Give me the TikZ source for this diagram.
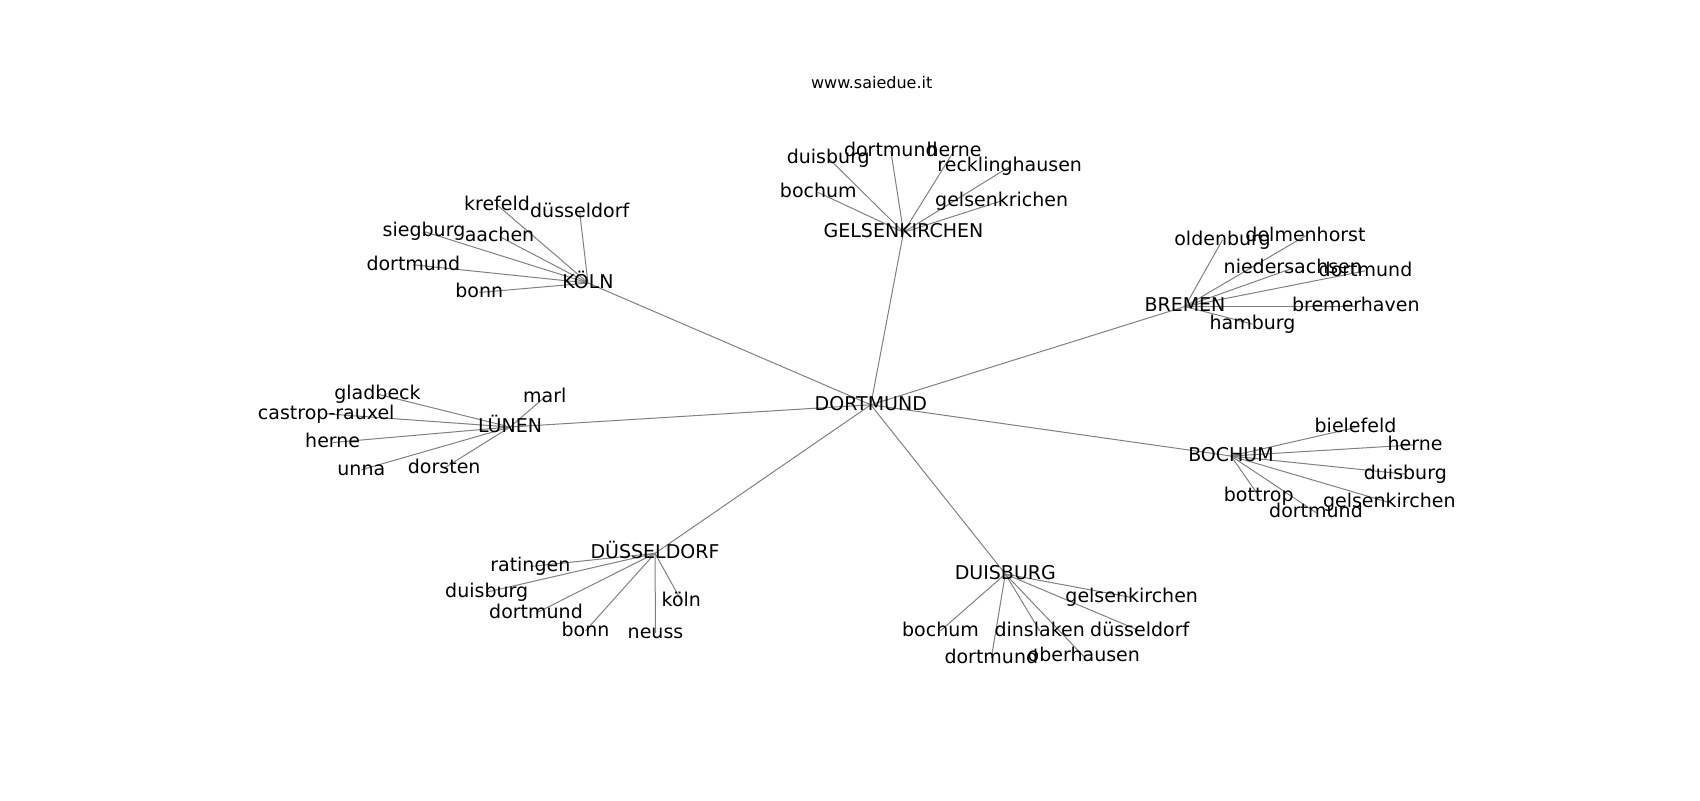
\documentclass[tikz,border=0pt]{standalone}
\usepackage{fontspec}
\setmainfont{DejaVu Sans}
\usetikzlibrary{backgrounds}
\tikzset{
  lbl/.style={font=\fontsize{9.5}{11}\selectfont, inner sep=0pt, text height=7.22pt, text depth=1.98pt, anchor=center},
  ttl/.style={font=\fontsize{8}{10}\selectfont, inner sep=0pt, anchor=base},
  edge/.style={draw=gray, line width=0.5pt}
}
\begin{document}
\begin{tikzpicture}[x=0.5pt,y=-0.5pt]
\useasboundingbox (0,0) rectangle (1700,800);
\node[ttl] (title) at (871.7,88.3) {www.saiedue.it};
% hubs
\node[lbl] (DO) at (870.8,404.8) {DORTMUND};
\node[lbl] (KO) at (588,283) {KÖLN};
\node[lbl] (GE) at (903.5,232.3) {GELSENKIRCHEN};
\node[lbl] (BR) at (1185,306.5) {BREMEN};
\node[lbl] (LU) at (510,427) {LÜNEN};
\node[lbl] (BO) at (1231,456) {BOCHUM};
\node[lbl] (DU) at (655,553.3) {DÜSSELDORF};
\node[lbl] (DB) at (1005.3,574) {DUISBURG};
% Köln
\node[lbl] (k1) at (497,204.8) {krefeld};
\node[lbl] (k2) at (579.7,212.5) {düsseldorf};
\node[lbl] (k3) at (424,231.5) {siegburg};
\node[lbl] (k4) at (499.5,236.5) {aachen};
\node[lbl] (k5) at (413.3,264.8) {dortmund};
\node[lbl] (k6) at (479.3,292.5) {bonn};
% Gelsenkirchen
\node[lbl] (g1) at (828.3,158.1) {duisburg};
\node[lbl] (g2) at (890.8,150.8) {dortmund};
\node[lbl] (g3) at (954,150.8) {herne};
\node[lbl] (g4) at (1009.7,166.5) {recklinghausen};
\node[lbl] (g5) at (818.3,192.5) {bochum};
\node[lbl] (g6) at (1001.7,200.8) {gelsenkrichen};
% Bremen
\node[lbl] (b1) at (1222.5,239.8) {oldenburg};
\node[lbl] (b2) at (1305.5,235.8) {delmenhorst};
\node[lbl] (b3) at (1292.8,268.1) {niedersachsen};
\node[lbl] (b4) at (1365.5,270.8) {dortmund};
\node[lbl] (b5) at (1355.8,306.5) {bremerhaven};
\node[lbl] (b6) at (1252.5,324.1) {hamburg};
% Lünen
\node[lbl] (l1) at (377.5,394.1) {gladbeck};
\node[lbl] (l2) at (326.2,413.8) {castrop-rauxel};
\node[lbl] (l3) at (332.7,442.5) {herne};
\node[lbl] (l4) at (361.3,469.8) {unna};
\node[lbl] (l5) at (444.2,468.1) {dorsten};
\node[lbl] (l6) at (544.8,397.1) {marl};
% Bochum
\node[lbl] (o1) at (1355.5,427.5) {bielefeld};
\node[lbl] (o2) at (1415,444.8) {herne};
\node[lbl] (o3) at (1405.3,474.1) {duisburg};
\node[lbl] (o4) at (1258.7,495.8) {bottrop};
\node[lbl] (o5) at (1389.3,502.5) {gelsenkirchen};
\node[lbl] (o6) at (1316,512.5) {dortmund};
% Düsseldorf
\node[lbl] (d1) at (530.3,566.5) {ratingen};
\node[lbl] (d2) at (486.7,592.1) {duisburg};
\node[lbl] (d3) at (536,613.1) {dortmund};
\node[lbl] (d4) at (585.5,630.8) {bonn};
\node[lbl] (d5) at (655.5,633.1) {neuss};
\node[lbl] (d6) at (681.3,600.8) {köln};
% Duisburg
\node[lbl] (u1) at (1131.7,597.5) {gelsenkirchen};
\node[lbl] (u2) at (940.5,630.8) {bochum};
\node[lbl] (u3) at (1039.7,630.8) {dinslaken};
\node[lbl] (u4) at (1139.7,630.8) {düsseldorf};
\node[lbl] (u5) at (991.3,658.1) {dortmund};
\node[lbl] (u6) at (1083.8,656.5) {oberhausen};
\begin{scope}[on background layer]
\foreach \h in {KO,GE,BR,LU,BO,DU,DB}
  \draw[edge] (DO.center) -- (\h.center);
\foreach \l in {k1,k2,k3,k4,k5,k6}
  \draw[edge] (KO.center) -- (\l.center);
\foreach \l in {g1,g2,g3,g4,g5,g6}
  \draw[edge] (GE.center) -- (\l.center);
\foreach \l in {b1,b2,b3,b4,b5,b6}
  \draw[edge] (BR.center) -- (\l.center);
\foreach \l in {l1,l2,l3,l4,l5,l6}
  \draw[edge] (LU.center) -- (\l.center);
\foreach \l in {o1,o2,o3,o4,o5,o6}
  \draw[edge] (BO.center) -- (\l.center);
\foreach \l in {d1,d2,d3,d4,d5,d6}
  \draw[edge] (DU.center) -- (\l.center);
\foreach \l in {u1,u2,u3,u4,u5,u6}
  \draw[edge] (DB.center) -- (\l.center);
\end{scope}
\end{tikzpicture}
\end{document}
